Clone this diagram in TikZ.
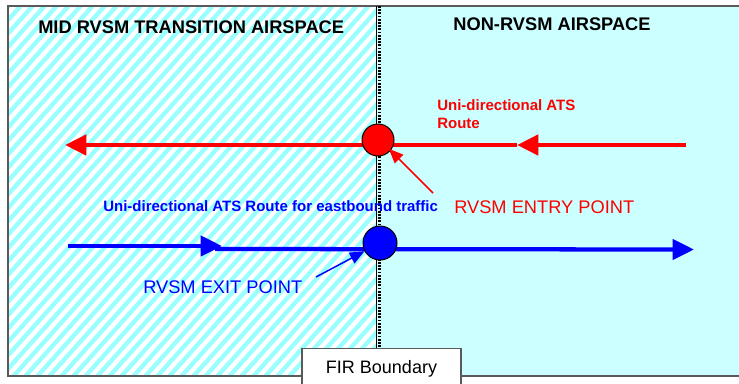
\documentclass[tikz,border=0pt]{standalone}
\usepackage{fontspec}
\setmainfont{Liberation Sans}
\usetikzlibrary{arrows.meta}
\definecolor{cyanA}{RGB}{153,255,255}
\definecolor{cyanB}{RGB}{204,255,255}
\definecolor{frame}{RGB}{90,90,90}
\begin{document}
\begin{tikzpicture}[x=0.75pt,y=-0.75pt,
  title/.style={font=\bfseries\fontsize{13.7}{16}\selectfont, inner sep=0pt, text depth=0pt},
  routetxt/.style={font=\bfseries\fontsize{11.25}{13.5}\selectfont, inner sep=0pt},
  pointtxt/.style={font=\fontsize{13.7}{16}\selectfont, inner sep=0pt, text depth=0pt},
  pointdot/.style={circle, draw=black, line width=0.75pt, inner sep=0pt},
  bigarrow/.style={-{Triangle[length=16pt,width=15pt]}},
  thinarrow/.style={line width=1.1pt, -{Triangle[length=11pt,width=9pt]}}]
\useasboundingbox (0,0) rectangle (739,383);
% regions
\fill[cyanB] (377,6) rectangle (739,376);
\fill[cyanA] (8,6) rectangle (377,376);
\begin{scope}
  \clip (8,6) rectangle (376,376);
  \foreach \a in {-380,-368,...,390} \draw[white, line width=3.2pt] (\a,380) -- (\a+340,0);
\end{scope}
% frame
\draw[frame, line width=1.5pt] (739,6) -- (8,6) -- (8,376) -- (739,376);
% FIR boundary
\draw[black, line width=0.8pt] (376.5,6) -- (376.5,376);
\draw[black, line width=1.6pt, dash pattern=on 1.3pt off 1.1pt] (379.5,6) -- (379.5,376);
% titles
\node[title, anchor=west] (mid) at (38,27.5) {MID RVSM TRANSITION AIRSPACE};
\node[title] (non) at (552,24) {NON-RVSM AIRSPACE};
% red route
\coordinate (rR) at (686,145);
\coordinate (rM) at (517,145);
\coordinate (rL) at (65,145);
\draw[red, line width=3.5pt, bigarrow] (rR) -- (rM);
\draw[red, line width=3.5pt, bigarrow] (rM) -- (rL);
% blue route
\coordinate (bL) at (68,246);
\coordinate (bM) at (222,246);
\coordinate (bM2) at (215,249);
\coordinate (bR) at (694,249.5);
\draw[blue, line width=3.2pt, bigarrow] (bL) -- (bM);
\draw[blue, line width=3.2pt, bigarrow] (bM2) -- (bR);
% points
\node[pointdot, fill=red, minimum size=24pt] (entry) at (378,140) {};
\node[pointdot, fill=blue, minimum size=25.5pt] (exit) at (380,243) {};
% labels
\node[routetxt, text=red, align=left, anchor=north west] (rtxt) at (437,99) {Uni-directional ATS\\Route};
\node[routetxt, text=blue, anchor=west, text depth=0pt] (btxt) at (103,206) {Uni-directional ATS Route for eastbound traffic};
\node[pointtxt, text=red, anchor=west] (entrytxt) at (454,207) {RVSM ENTRY POINT};
\node[pointtxt, text=blue, anchor=west] (exittxt) at (143,287) {RVSM EXIT POINT};
% pointers
\coordinate (ea) at (433,193);
\coordinate (xa) at (316,277);
\draw[red, thinarrow, shorten >=-2pt] (ea) -- (entry.-40);
\draw[blue, thinarrow] (xa) -- (exit.208);
% FIR box
\node[draw=frame, line width=0.9pt, fill=white, anchor=north, minimum width=119.25pt, minimum height=27pt, inner sep=0pt, text depth=0pt, font=\fontsize{13.5}{16}\selectfont] (fir) at (381.5,348) {FIR Boundary};
\end{tikzpicture}
\end{document}
